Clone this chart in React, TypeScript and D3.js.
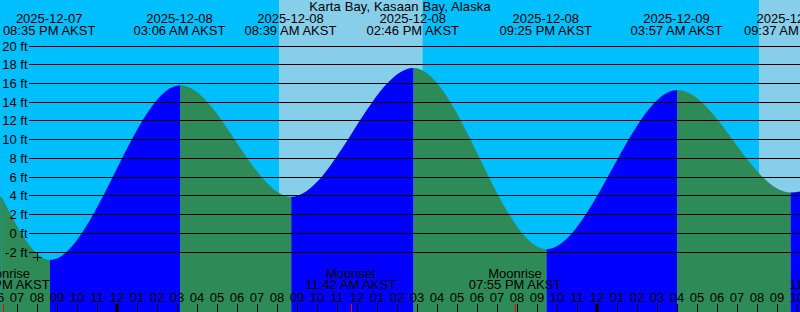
import React from 'react';
import * as d3 from 'd3';

const parse = d3.utcParse('%Y-%m-%d %H:%M');

const title = 'Karta Bay, Kasaan Bay, Alaska';
const viewStart = '2025-12-07 18:10';
const viewEnd = '2025-12-09 10:10';

// heights at the left and right edges of the view (ft)
const edgeTimes = ['2025-12-07 18:10', '2025-12-09 10:10'];
const edgeHeights = [3.9, 4.5];

// high / low tides (ft)
const extremeTimes = [
  '2025-12-07 20:35',
  '2025-12-08 03:06',
  '2025-12-08 08:39',
  '2025-12-08 14:46',
  '2025-12-08 21:25',
  '2025-12-09 03:57',
  '2025-12-09 09:37',
];
const extremeHeights = [-2.85, 15.8, 3.9, 17.65, -1.7, 15.3, 4.35];

// daylight
const sunriseTimes = ['2025-12-08 08:07', '2025-12-09 08:07'];
const sunsetTimes = ['2025-12-08 15:18', '2025-12-09 15:19'];

// moon events
const moonTimes = ['2025-12-07 18:20', '2025-12-08 11:42', '2025-12-08 19:55', '2025-12-09 11:55'];
const moonKinds = ['Moonrise', 'Moonset', 'Moonrise', 'Moonset'];

// current time marker
const nowTime = '2025-12-07 20:02';
const nowHeight = -2.5;

const yTicks = [-2, 0, 2, 4, 6, 8, 10, 12, 14, 16, 18, 20];

const W = 800;
const H = 312;
const NIGHT = '#00BFFF';
const DAY = '#87CEEB';
const RISING = '#0000FF';
const FALLING = '#2E8B57';
const FONT = '"Liberation Sans", Arial, sans-serif';
const FILL_SHIFT = 1.6;
const LABEL_SHIFT = 0.8;

export default function App() {
  const start = parse(viewStart)!;
  const end = parse(viewEnd)!;
  const x = d3.scaleUtc().domain([start, end]).range([0, W]);
  const y = d3.scaleLinear().domain([-2, 20]).range([252, 46]);

  const pts: [Date, number][] = [
    [parse(edgeTimes[0])!, edgeHeights[0]],
    ...extremeTimes.map((t, i) => [parse(t)!, extremeHeights[i]] as [Date, number]),
    [parse(edgeTimes[1])!, edgeHeights[1]],
  ];

  const area = d3
    .area<[Date, number]>()
    .x((d) => x(d[0]))
    .y0(H)
    .y1((d) => y(d[1]))
    .curve(d3.curveMonotoneX);
  const areaPath = area(pts) || '';

  const fmtDate = d3.utcFormat('%Y-%m-%d');
  const fmtTime = d3.utcFormat('%I:%M %p AKST');
  const fmtHour = d3.utcFormat('%I');

  const hours = d3.utcHour.range(d3.utcHour.floor(start), d3.utcHour.offset(end, 2));

  const segs = pts.slice(0, -1).map((p, i) => ({
    x0: x(p[0]),
    x1: x(pts[i + 1][0]),
    rising: pts[i + 1][1] > p[1],
  }));

  const nx = x(parse(nowTime)!);
  const ny = y(nowHeight);

  return (
    <svg width={W} height={H} style={{ display: 'block' }} fontFamily={FONT} fontSize={13}>
      <style>{`body{margin:0}`}</style>
      <defs>
        {segs.map((s, i) => (
          <clipPath id={`seg${i}`} key={i}>
            <rect x={i === 0 ? -10 : s.x0} y={0} width={s.x1 - (i === 0 ? -10 : s.x0) + (i === segs.length - 1 ? 10 : 0)} height={H} />
          </clipPath>
        ))}
      </defs>
      <rect x={0} y={0} width={W} height={H} fill={NIGHT} />
      {sunriseTimes.map((t, i) => {
        const a = x(parse(t)!);
        const b = x(parse(sunsetTimes[i])!);
        return <rect key={i} x={a} y={0} width={b - a} height={H} fill={DAY} />;
      })}
      <g transform={`translate(${FILL_SHIFT},0)`}>
        {segs.map((s, i) => (
          <path key={i} d={areaPath} fill={s.rising ? RISING : FALLING} clipPath={`url(#seg${i})`} />
        ))}
        <path d={`M${-FILL_SHIFT - 1},${y(edgeHeights[0])}H0V${H}H${-FILL_SHIFT - 1}Z`} fill={FALLING} />
      </g>
      {yTicks.map((v) => {
        const yy = Math.floor(y(v)) + 0.5;
        return (
          <g key={v}>
            <line x1={29} x2={W} y1={yy} y2={yy} stroke="#000" strokeWidth={1} />
            <text x={27.5} y={yy + 4} textAnchor="end">{`${v} ft`}</text>
          </g>
        );
      })}
      <text x={W / 2} y={11} textAnchor="middle" letterSpacing={0.12}>{title}</text>
      {extremeTimes.map((t, i) => {
        const d = parse(t)!;
        const xx = x(d) + LABEL_SHIFT;
        return (
          <g key={t}>
            <text x={xx} y={23} textAnchor="middle">{fmtDate(d)}</text>
            <text x={xx} y={35} textAnchor="middle">{fmtTime(d)}</text>
          </g>
        );
      })}
      {hours.map((h) => {
        const xx = Math.round(x(h));
        const midnight = h.getUTCHours() === 0;
        return (
          <g key={+h}>
            <text x={xx} y={302} textAnchor="middle">{fmtHour(h)}</text>
            <line
              x1={midnight ? xx : xx + 0.5}
              x2={midnight ? xx : xx + 0.5}
              y1={304}
              y2={H}
              stroke="#000"
              strokeWidth={midnight ? 3 : 1}
            />
          </g>
        );
      })}
      {moonTimes.map((t, i) => {
        const d = parse(t)!;
        const xx = x(d);
        return (
          <g key={t}>
            <line x1={Math.round(xx) + 0.5} x2={Math.round(xx) + 0.5} y1={304} y2={H} stroke="#FF0000" />
            <text x={xx} y={278} textAnchor="middle">{moonKinds[i]}</text>
            <text x={xx} y={289} textAnchor="middle">{fmtTime(d)}</text>
          </g>
        );
      })}
      <g stroke="#000" strokeWidth={1}>
        <line x1={nx - 4.5} x2={nx + 4.5} y1={Math.round(ny) + 0.5} y2={Math.round(ny) + 0.5} />
        <line x1={Math.round(nx) + 0.5} x2={Math.round(nx) + 0.5} y1={ny - 4.5} y2={ny + 4.5} />
      </g>
    </svg>
  );
}
